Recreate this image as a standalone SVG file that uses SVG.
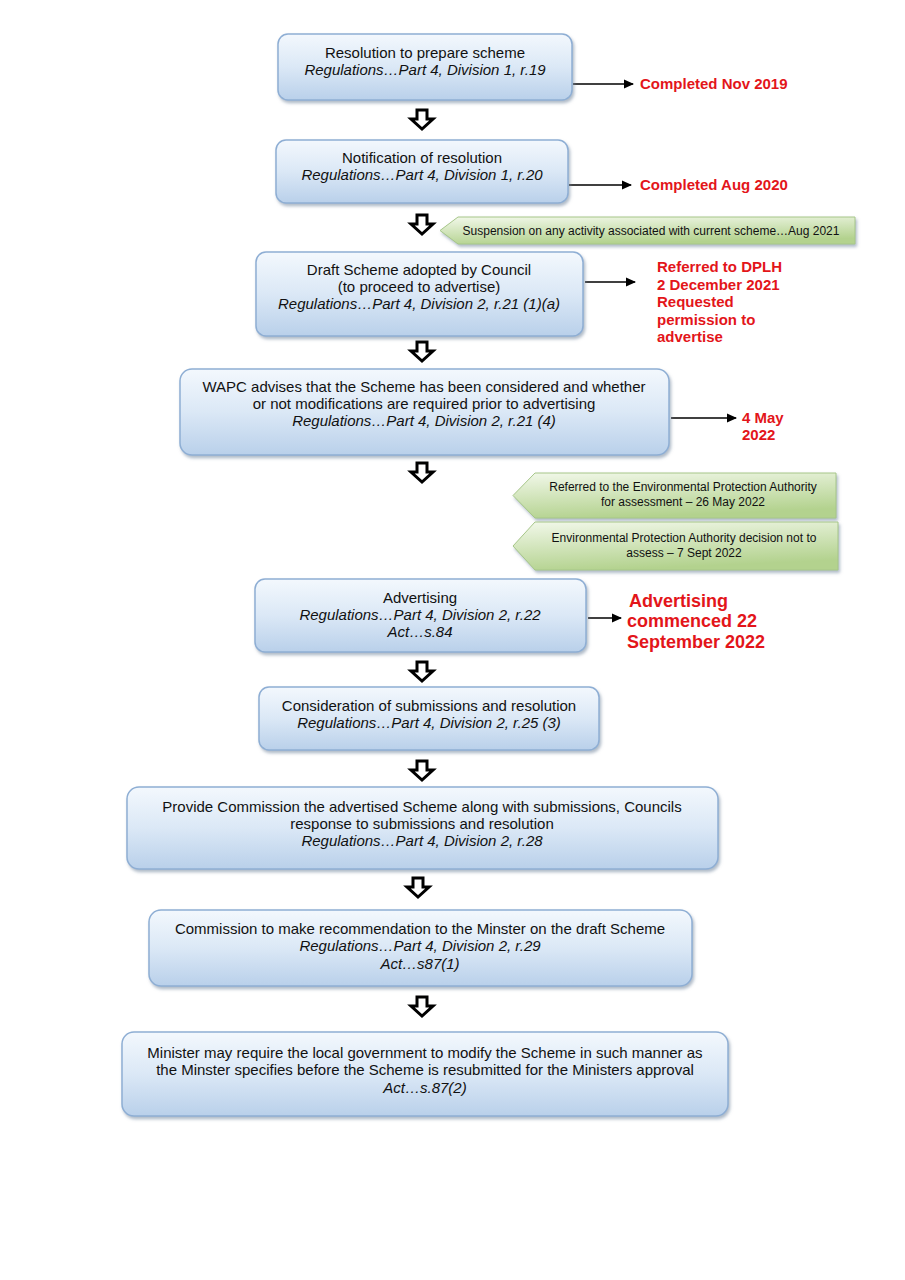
<svg xmlns="http://www.w3.org/2000/svg" width="905" height="1280" viewBox="0 0 905 1280">
<style>
.box{fill:url(#bg);stroke:#8eaed4;stroke-width:1.5}
.t{font-family:"Liberation Sans",Arial,sans-serif;font-size:15px;fill:#111;text-anchor:middle}
.i{font-style:italic}
.r{font-family:"Liberation Sans",Arial,sans-serif;font-size:15px;font-weight:bold;fill:#e3151a}
.rl{font-size:18px}
.g{fill:url(#gg);stroke:#a6c688;stroke-width:1}
.gt{font-family:"Liberation Sans",Arial,sans-serif;font-size:12px;fill:#111;text-anchor:middle}
.ba{fill:#fff;stroke:#000;stroke-width:3;stroke-linejoin:miter}
.ln{stroke:#000;stroke-width:1.3;fill:none}
</style>
<defs>
<linearGradient id="bg" x1="0" y1="0" x2="0" y2="1">
<stop offset="0" stop-color="#f3f8fd"/>
<stop offset="0.5" stop-color="#dbe8f6"/>
<stop offset="1" stop-color="#b9d0ea"/>
</linearGradient>
<linearGradient id="gg" x1="0" y1="0" x2="0.3" y2="1">
<stop offset="0" stop-color="#f2f8ea"/>
<stop offset="1" stop-color="#b3d28e"/>
</linearGradient>
<filter id="sh" x="-5%" y="-10%" width="110%" height="130%">
<feDropShadow dx="1.5" dy="2.5" stdDeviation="1.5" flood-color="#7a8da3" flood-opacity="0.6"/>
</filter>
<marker id="ah" viewBox="0 0 10 10" refX="9" refY="5" markerWidth="11" markerHeight="10" orient="auto" markerUnits="userSpaceOnUse">
<path d="M0,0.5 L10,5 L0,9.5 z" fill="#000"/>
</marker>
<path id="blk" d="M-5,0 H5 V9 H11 L0,19 L-11,9 H-5 Z"/>
</defs>
<rect width="905" height="1280" fill="#fff"/>

<g id="connectors">
<line class="ln" x1="573" y1="84" x2="633" y2="84" marker-end="url(#ah)"/>
<line class="ln" x1="569" y1="185" x2="631" y2="185" marker-end="url(#ah)"/>
<line class="ln" x1="585" y1="282" x2="635" y2="282" marker-end="url(#ah)"/>
<line class="ln" x1="671" y1="418" x2="736" y2="418" marker-end="url(#ah)"/>
<line class="ln" x1="588" y1="618" x2="621" y2="618" marker-end="url(#ah)"/>
<use href="#blk" class="ba" x="422" y="110"/>
<use href="#blk" class="ba" x="422" y="215"/>
<use href="#blk" class="ba" x="422" y="342"/>
<use href="#blk" class="ba" x="422" y="463"/>
<use href="#blk" class="ba" x="422" y="662"/>
<use href="#blk" class="ba" x="422" y="761"/>
<use href="#blk" class="ba" x="418" y="878"/>
<use href="#blk" class="ba" x="422" y="997"/>
</g>

<g id="n1">
<rect class="box" x="278" y="34" width="294" height="66" rx="10" filter="url(#sh)"/>
<text class="t" x="425" y="58">Resolution to prepare scheme</text>
<text class="t i" x="425" y="75">Regulations…Part 4, Division 1, r.19</text>
</g>
<text class="r" x="640" y="89">Completed Nov 2019</text>

<g id="n2">
<rect class="box" x="276" y="140" width="292" height="63" rx="10" filter="url(#sh)"/>
<text class="t" x="422" y="163">Notification of resolution</text>
<text class="t i" x="422" y="180">Regulations…Part 4, Division 1, r.20</text>
</g>
<text class="r" x="640" y="190">Completed Aug 2020</text>

<g id="c1">
<path class="g" d="M458,217 H855 V244 H458 L440,230.5 Z" filter="url(#sh)"/>
<text class="gt" x="651" y="234.5">Suspension on any activity associated with current scheme…Aug 2021</text>
</g>

<g id="n3">
<rect class="box" x="256" y="252" width="327" height="84" rx="10" filter="url(#sh)"/>
<text class="t" x="419" y="275">Draft Scheme adopted by Council</text>
<text class="t" x="419" y="292">(to proceed to advertise)</text>
<text class="t i" x="419" y="309">Regulations…Part 4, Division 2, r.21 (1)(a)</text>
</g>
<text class="r" x="657" y="272">Referred to DPLH</text>
<text class="r" x="657" y="290">2 December 2021</text>
<text class="r" x="657" y="307">Requested</text>
<text class="r" x="657" y="325">permission to</text>
<text class="r" x="657" y="342">advertise</text>

<g id="n4">
<rect class="box" x="180" y="369" width="489" height="86" rx="12" filter="url(#sh)"/>
<text class="t" x="424" y="392">WAPC advises that the Scheme has been considered and whether</text>
<text class="t" x="424" y="409">or not modifications are required prior to advertising</text>
<text class="t i" x="424" y="426">Regulations…Part 4, Division 2, r.21 (4)</text>
</g>
<text class="r" x="742" y="423">4 May</text>
<text class="r" x="742" y="440">2022</text>

<g id="c2">
<path class="g" d="M535,473 H836 V518 H535 L513,495.5 Z" filter="url(#sh)"/>
<text class="gt" x="683" y="491">Referred to the Environmental Protection Authority</text>
<text class="gt" x="683" y="506">for assessment – 26 May 2022</text>
</g>
<g id="c3">
<path class="g" d="M535,522 H838 V570 H535 L513,546 Z" filter="url(#sh)"/>
<text class="gt" x="684" y="542">Environmental Protection Authority decision not to</text>
<text class="gt" x="684" y="557">assess – 7 Sept 2022</text>
</g>

<g id="n5">
<rect class="box" x="255" y="579" width="331" height="73" rx="10" filter="url(#sh)"/>
<text class="t" x="420" y="603">Advertising</text>
<text class="t i" x="420" y="620">Regulations…Part 4, Division 2, r.22</text>
<text class="t i" x="420" y="637">Act…s.84</text>
</g>
<text class="r rl" x="629" y="607">Advertising</text>
<text class="r rl" x="627" y="627">commenced 22</text>
<text class="r rl" x="627" y="648">September 2022</text>

<g id="n6">
<rect class="box" x="259" y="687" width="340" height="63" rx="10" filter="url(#sh)"/>
<text class="t" x="429" y="711">Consideration of submissions and resolution</text>
<text class="t i" x="429" y="728">Regulations…Part 4, Division 2, r.25 (3)</text>
</g>

<g id="n7">
<rect class="box" x="127" y="787" width="591" height="82" rx="12" filter="url(#sh)"/>
<text class="t" x="422" y="812">Provide Commission the advertised Scheme along with submissions, Councils</text>
<text class="t" x="422" y="829">response to submissions and resolution</text>
<text class="t i" x="422" y="846">Regulations…Part 4, Division 2, r.28</text>
</g>

<g id="n8">
<rect class="box" x="149" y="910" width="543" height="76" rx="12" filter="url(#sh)"/>
<text class="t" x="420" y="934">Commission to make recommendation to the Minster on the draft Scheme</text>
<text class="t i" x="420" y="951">Regulations…Part 4, Division 2, r.29</text>
<text class="t i" x="420" y="969">Act…s87(1)</text>
</g>

<g id="n9">
<rect class="box" x="122" y="1032" width="606" height="84" rx="12" filter="url(#sh)"/>
<text class="t" x="425" y="1058">Minister may require the local government to modify the Scheme in such manner as</text>
<text class="t" x="425" y="1075">the Minster specifies before the Scheme is resubmitted for the Ministers approval</text>
<text class="t i" x="425" y="1093">Act…s.87(2)</text>
</g>
</svg>
